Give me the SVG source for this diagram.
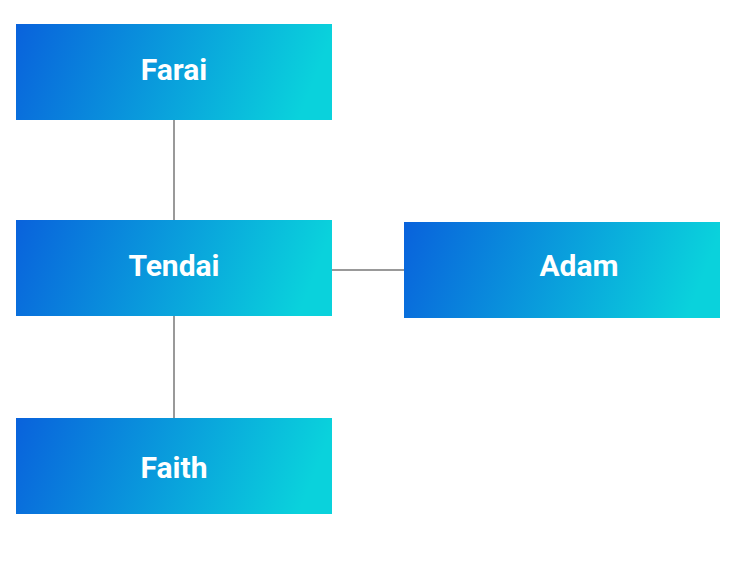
<svg xmlns="http://www.w3.org/2000/svg" width="736" height="582" viewBox="0 0 736 582">
<defs>
<linearGradient id="g" x1="0" y1="0" x2="1" y2="0.12">
<stop offset="0" stop-color="#0962dc"/>
<stop offset="1" stop-color="#0ad2dc"/>
</linearGradient>
<style>
.n{fill:url(#g)}
.t{font-family:Roboto,"Liberation Sans",sans-serif;font-weight:bold;font-size:30px;fill:#fff;text-anchor:middle}
.c{stroke:#999;stroke-width:2;fill:none}
</style>
</defs>
<rect width="736" height="582" fill="#fff"/>
<g id="connectors">
<line class="c" x1="174" y1="120" x2="174" y2="220"/>
<line class="c" x1="174" y1="316" x2="174" y2="418"/>
<line class="c" x1="332" y1="270" x2="404" y2="270"/>
</g>
<g id="farai"><rect class="n" x="16" y="24" width="316" height="96"/><text class="t" x="174" y="80">Farai</text></g>
<g id="tendai"><rect class="n" x="16" y="220" width="316" height="96"/><text class="t" x="174" y="276">Tendai</text></g>
<g id="adam"><rect class="n" x="404" y="222" width="316" height="96"/><text class="t" x="579" y="276">Adam</text></g>
<g id="faith"><rect class="n" x="16" y="418" width="316" height="96"/><text class="t" x="174" y="478">Faith</text></g>
</svg>
